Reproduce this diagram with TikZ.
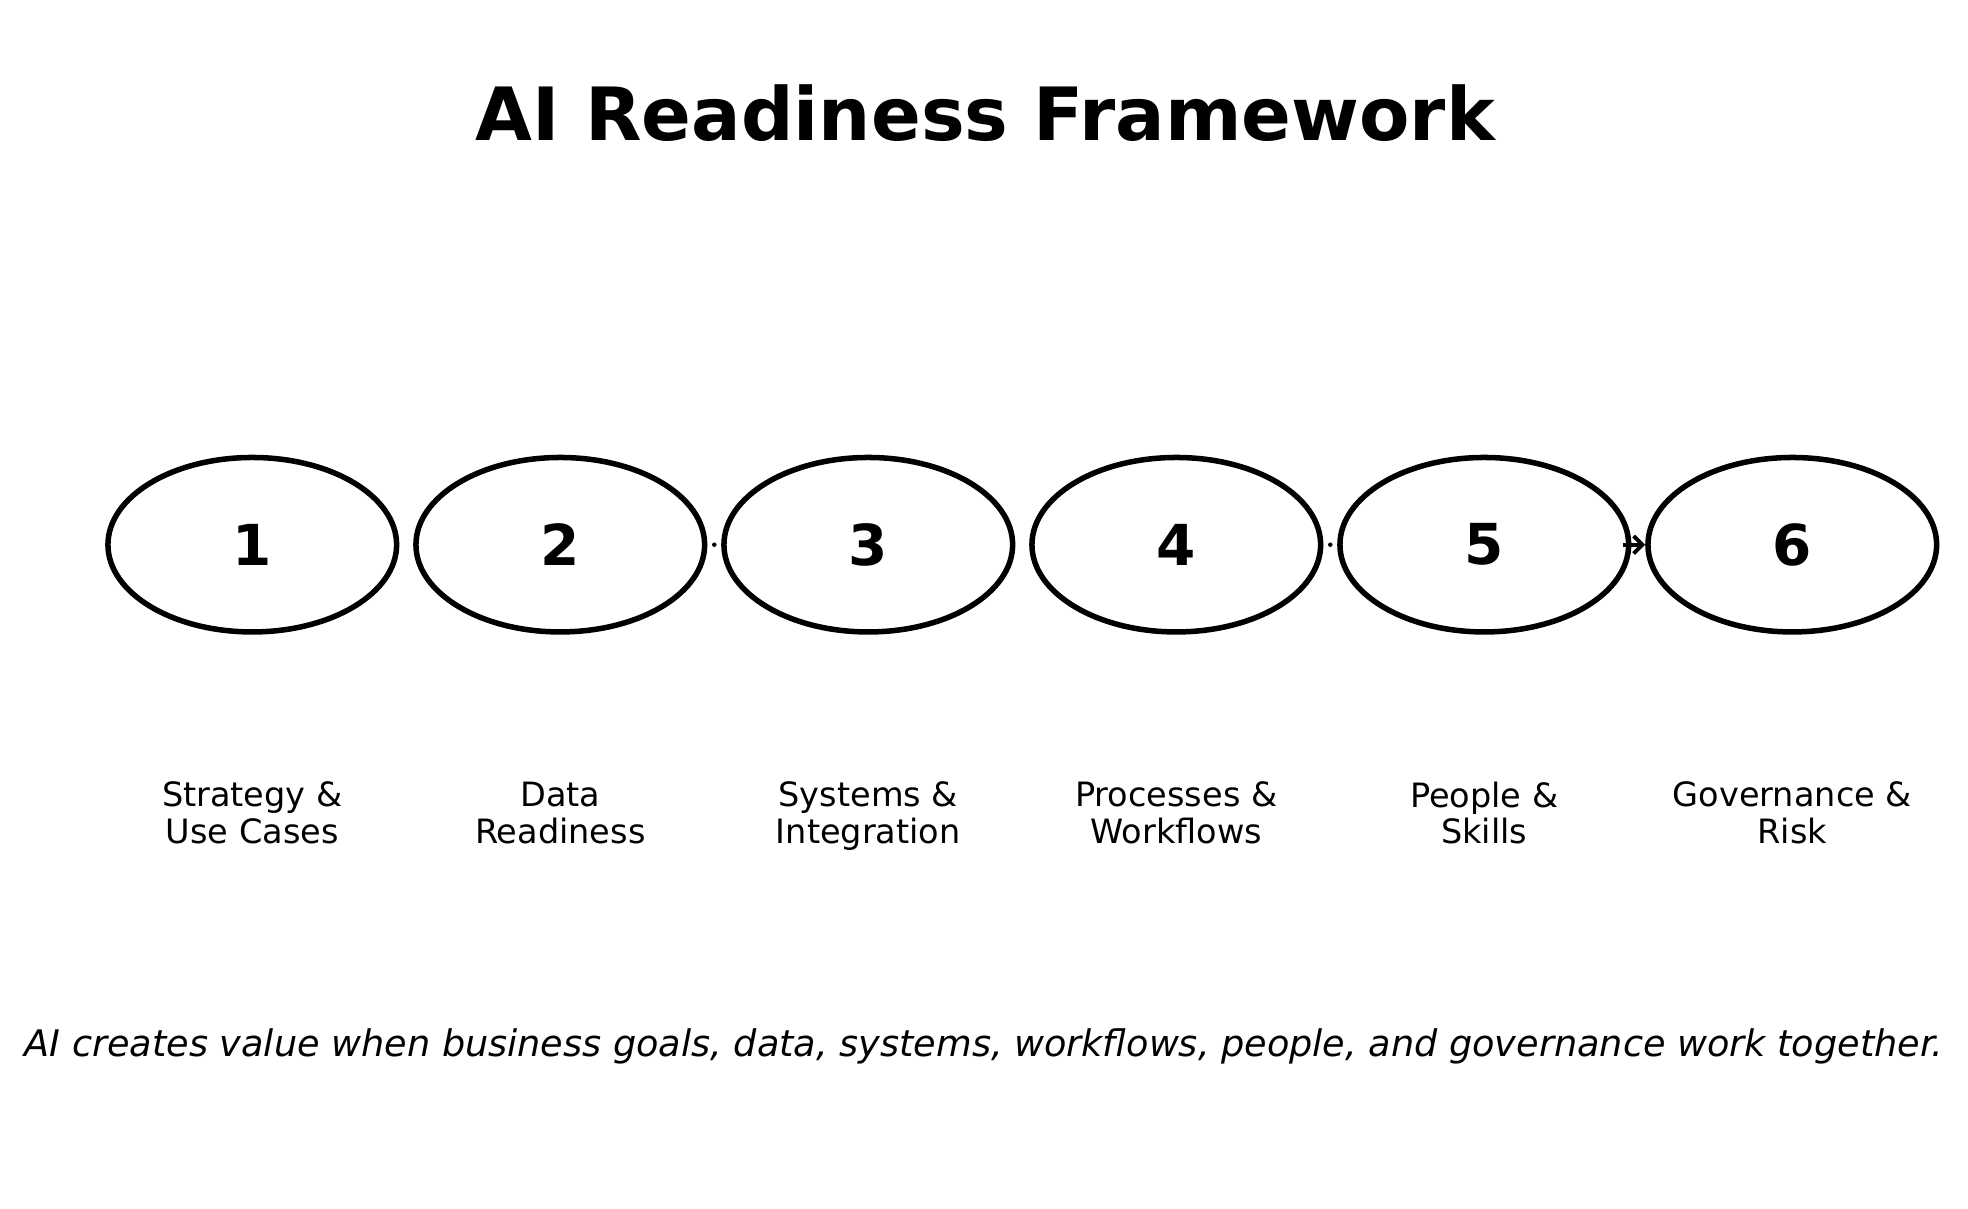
\documentclass[tikz,border=0pt]{standalone}
\usepackage{fontspec}
\setmainfont{DejaVu Sans}
\usetikzlibrary{shapes.geometric,calc,arrows.meta}
\tikzset{
    pillar/.style={draw,ellipse,line width=2.5pt,minimum width=46mm,minimum height=27.8mm,inner sep=0pt,
        font=\bfseries\fontsize{25.6}{30}\selectfont},
    pillartext/.style={align=center,font=\fontsize{15.2}{16.6}\selectfont,
        execute at begin node=\strut,execute at end node=\strut},
    link/.style={line width=1.8pt}
}
\begin{document}
\begin{tikzpicture}[x=0.2mm,y=-0.2mm]
    \useasboundingbox (0,0) rectangle (1568,963);
    %Title
    \node (title) at (785,90) {\bfseries\fontsize{33.3}{40}\selectfont AI Readiness Framework};
    %Pillars
    \foreach \i/\txt in {1/{Strategy \&\\Use Cases},2/{Data\\Readiness},3/{Systems \&\\Integration},
        4/{Processes \&\\Workflows},5/{People \&\\Skills},6/{Governance \&\\Risk}}{
        \node[pillar] (p\i) at ({201+245.4*(\i-1)},434) {\i};
        \node[pillartext] (t\i) at ({201+245.4*(\i-1)},652) {\txt};
    }
    %Links
    \fill ($(p2.east)!0.5!(p3.west)$) circle (1.8);
    \fill ($(p4.east)!0.5!(p5.west)$) circle (1.8);
    \draw[link,-{Straight Barb[length=1.4mm,width=2.8mm]}] ($(p5.east)+(-7,0)$) -- (p6.west);
    %Caption
    \node (caption) at (784,834) {\itshape\fontsize{16.6}{20}\selectfont AI creates value when business goals, data, systems, workflows, people, and governance work together.};
\end{tikzpicture}
\end{document}
